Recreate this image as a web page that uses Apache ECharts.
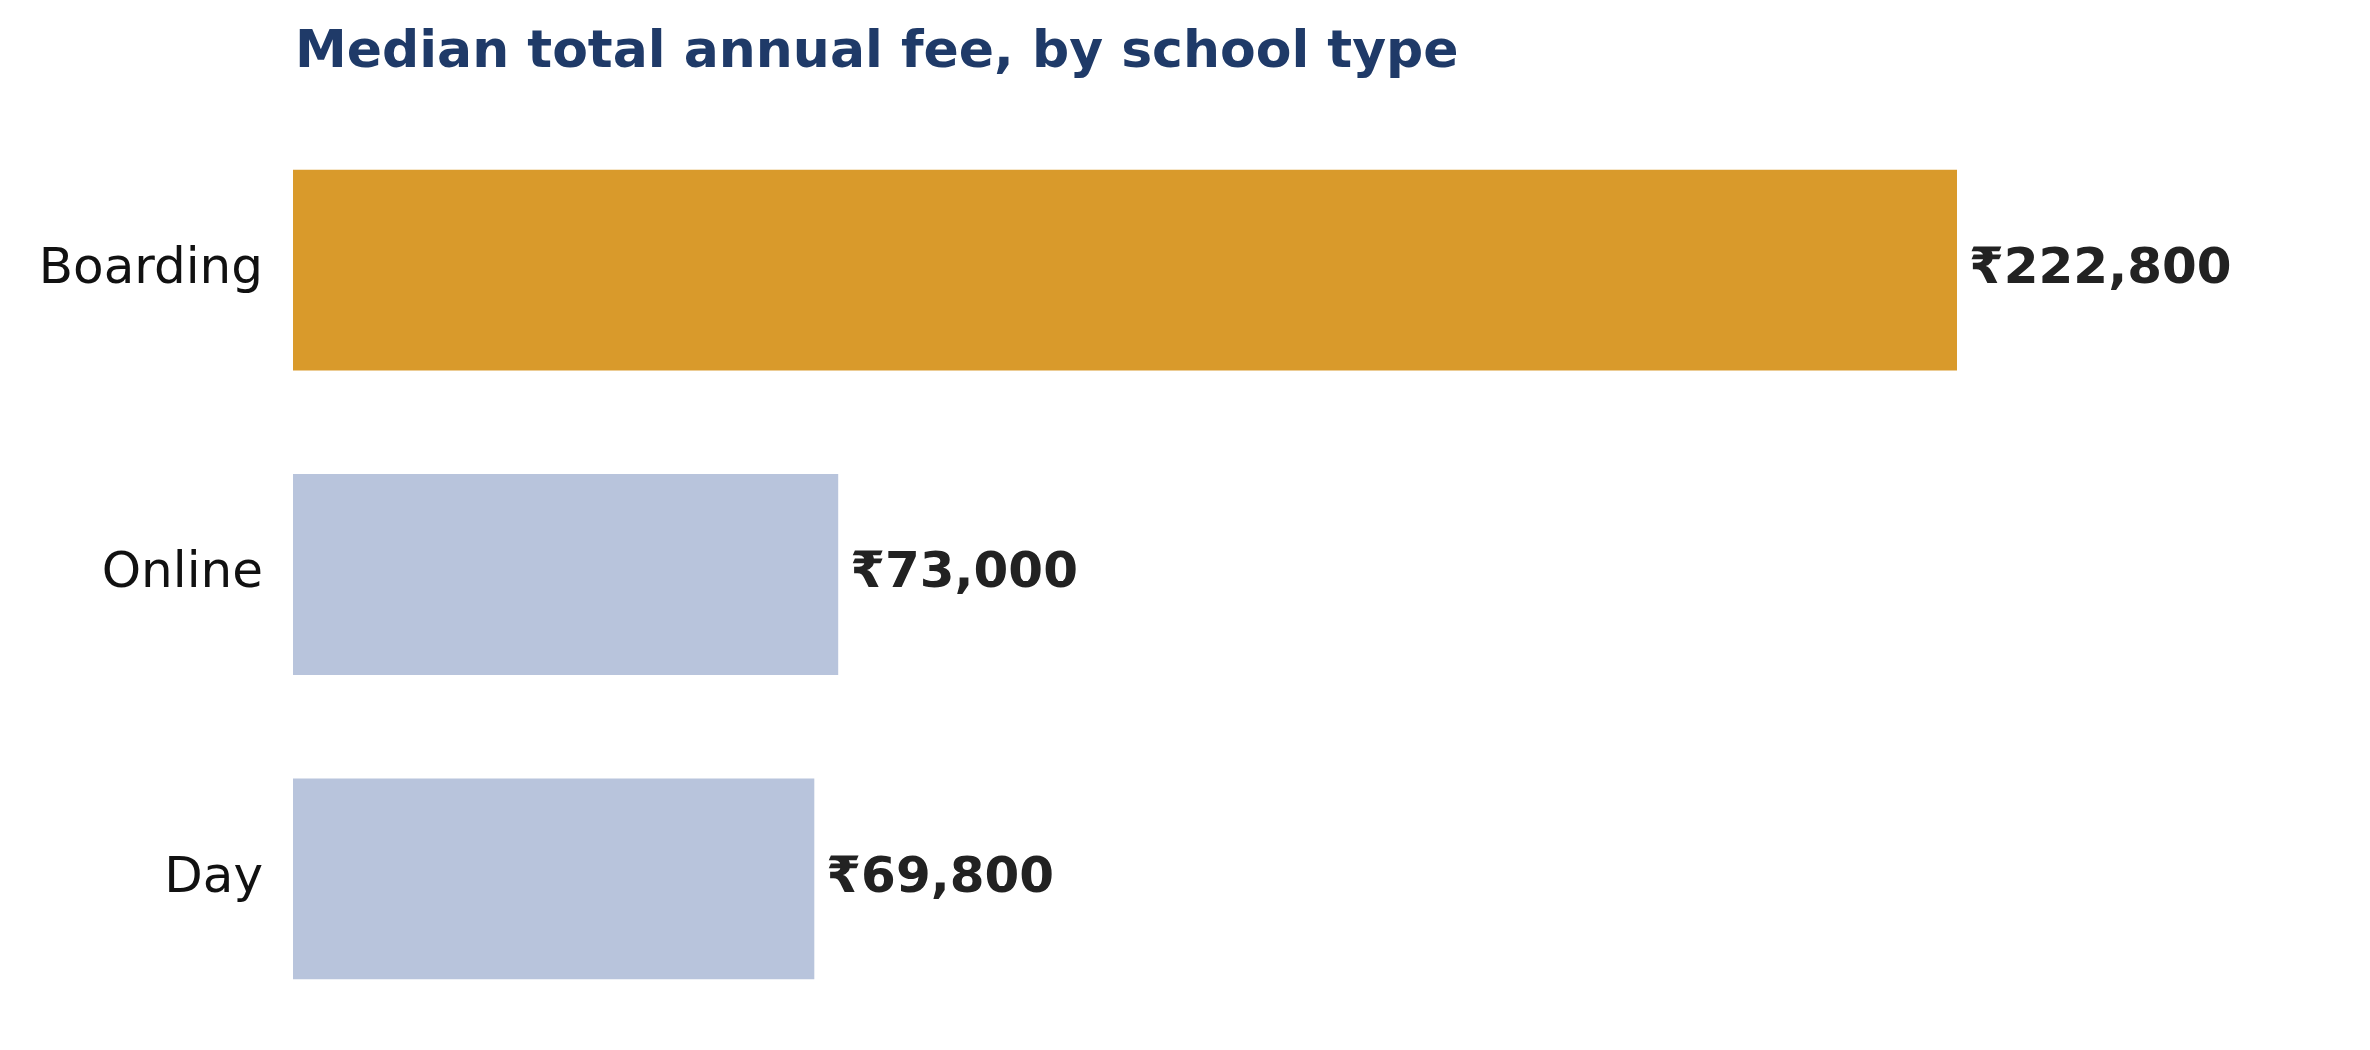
<!DOCTYPE html>
<html><head><meta charset="utf-8">
<script src="https://cdn.jsdelivr.net/npm/echarts@6/dist/echarts.min.js"></script>
<style>html,body{margin:0;padding:0;background:#fff}#c{width:2370px;height:1050px}</style>
</head><body><div id="c"></div>
<script>
const categories = ['Day', 'Online', 'Boarding'];
const values = [69800, 73000, 222800];
const barColors = ['#b8c4dc', '#b8c4dc', '#d99a2b'];
const chart = echarts.init(document.getElementById('c'));
chart.setOption({
  animation: false,
  title: {text: 'Median total annual fee, by school type', left: 290, top: 22,
    textStyle: {fontFamily: 'DejaVu Sans', fontWeight: 'bold', fontSize: 52, color: '#1f3a68'}},
  grid: {left: 293, top: 118, width: 1900, height: 913},
  xAxis: {type: 'value', min: 0, max: 254400, show: false},
  yAxis: {type: 'category', data: categories,
    axisLine: {show: false}, axisTick: {show: false},
    axisLabel: {fontFamily: 'DejaVu Sans', fontSize: 50, color: '#111', margin: 30}},
  series: [{type: 'bar', barWidth: '66%',
    data: values.map((v, i) => ({value: v, itemStyle: {color: barColors[i]}})),
    label: {show: true, position: 'right', distance: 12,
      fontFamily: 'DejaVu Sans', fontWeight: 'bold', fontSize: 50, color: '#222',
      formatter: p => '₹' + p.value.toLocaleString('en-US')}}]
});
</script></body></html>
